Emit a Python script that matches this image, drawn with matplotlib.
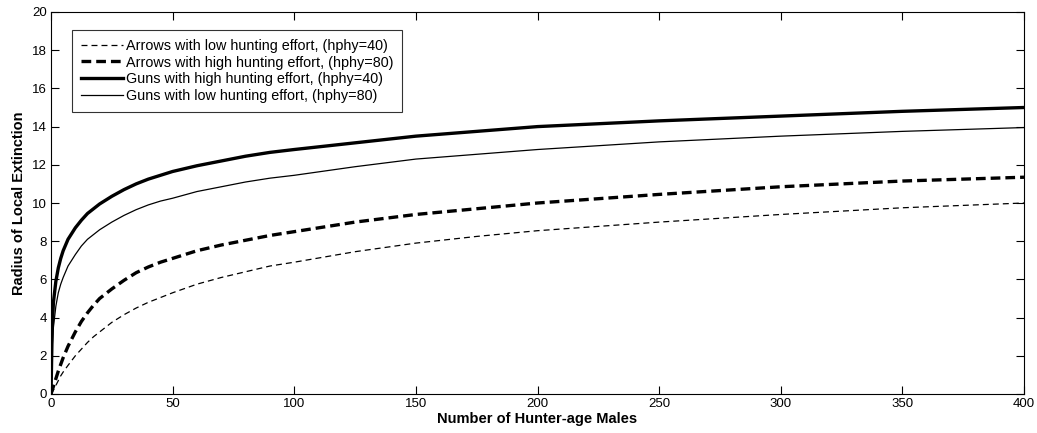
import matplotlib.pyplot as plt
import numpy as np

plt.rcParams['font.family'] = ['Liberation Sans', 'DejaVu Sans']
plt.rcParams['lines.scale_dashes'] = False

# values
hunters = [0, 0.5, 1, 2, 3, 4, 5, 7, 10, 12.5, 15, 17.5, 20, 25, 30, 35, 40, 45, 50, 60, 70, 80, 90,
           100, 125, 150, 175, 200, 250, 300, 350, 400]

arrows_low = [0, 0.1, 0.2, 0.45, 0.7, 0.95, 1.15, 1.5, 2.0, 2.35, 2.7, 3.0, 3.25, 3.75, 4.15, 4.5,
              4.8, 5.05, 5.3, 5.75, 6.1, 6.4, 6.7, 6.9, 7.45, 7.9, 8.25, 8.55, 9.0, 9.4, 9.75, 10.0]
arrows_high = [0, 0.2, 0.4, 0.8, 1.2, 1.55, 1.9, 2.5, 3.25, 3.8, 4.25, 4.65, 5.0, 5.5, 5.95, 6.35,
               6.65, 6.9, 7.1, 7.5, 7.8, 8.05, 8.3, 8.5, 9.0, 9.4, 9.7, 10.0, 10.45, 10.85, 11.15, 11.35]
guns_high = [0, 3.5, 4.8, 5.9, 6.6, 7.1, 7.5, 8.1, 8.7, 9.1, 9.45, 9.7, 9.95, 10.35, 10.7, 11.0,
             11.25, 11.45, 11.65, 11.95, 12.2, 12.45, 12.65, 12.8, 13.15, 13.5, 13.75, 14.0, 14.3,
             14.55, 14.8, 15.0]
guns_low = [0, 2.5, 3.5, 4.6, 5.3, 5.75, 6.1, 6.7, 7.3, 7.75, 8.1, 8.35, 8.6, 9.0, 9.35, 9.65,
            9.9, 10.1, 10.25, 10.6, 10.85, 11.1, 11.3, 11.45, 11.9, 12.3, 12.55, 12.8, 13.2, 13.5,
            13.75, 13.95]

labels = ['Arrows with low hunting effort, (hphy=40)',
          'Arrows with high hunting effort, (hphy=80)',
          'Guns with high hunting effort, (hphy=40)',
          'Guns with low hunting effort, (hphy=80)']

fig = plt.figure(figsize=(10.37, 4.33), dpi=100)
ax = fig.add_axes([51/1037, 39/433, 973/1037, 382/433])

ax.plot(hunters, arrows_low, color='k', lw=0.9, dashes=(4.3, 2.9), label=labels[0])
ax.plot(hunters, arrows_high, color='k', lw=2.4, dashes=(7.0, 3.6), label=labels[1])
ax.plot(hunters, guns_high, color='k', lw=2.4, label=labels[2])
ax.plot(hunters, guns_low, color='k', lw=0.9, label=labels[3])

ax.set_xlim(0, 400)
ax.set_ylim(0, 20)
ax.set_xticks(np.arange(0, 401, 50))
ax.set_yticks(np.arange(0, 21, 2))
ax.tick_params(direction='in', top=True, right=True, length=6, width=0.8, labelsize=9.5, pad=3)
for s in ax.spines.values():
    s.set_linewidth(0.8)

ax.set_xlabel('Number of Hunter-age Males', fontsize=10.5, fontweight='bold', labelpad=1)
ax.set_ylabel('Radius of Local Extinction', fontsize=10.5, fontweight='bold', labelpad=4)

leg = ax.legend(loc='upper left', bbox_to_anchor=(0.022, 0.953), fontsize=10.4, handlelength=2.9,
                handletextpad=0.2, labelspacing=0.2, borderpad=0.6, frameon=True, fancybox=False,
                borderaxespad=0)
leg.get_frame().set_edgecolor('k')
leg.get_frame().set_linewidth(0.8)

fig.savefig('out.png', dpi=100)
